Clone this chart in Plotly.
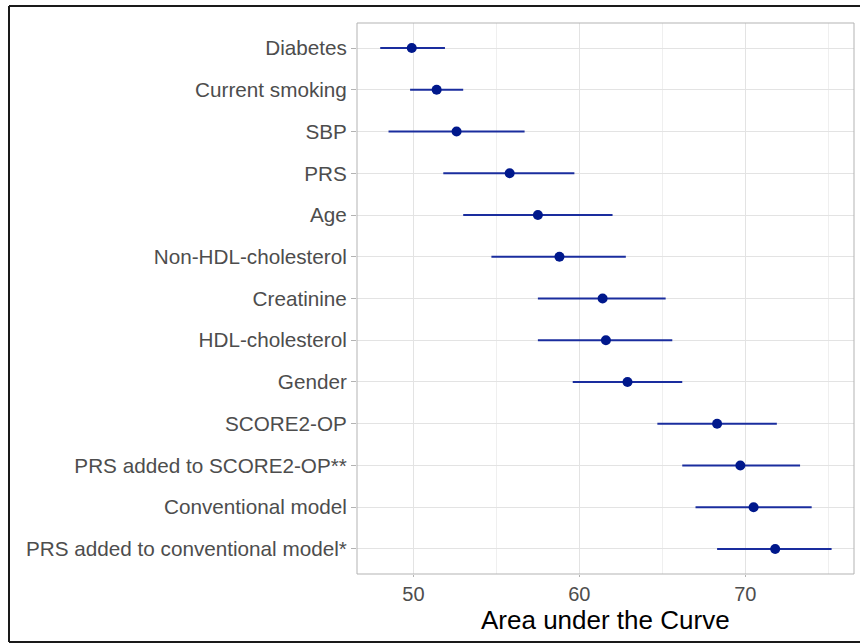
import plotly.graph_objects as go

labels = ["Diabetes", "Current smoking", "SBP", "PRS", "Age", "Non-HDL-cholesterol",
          "Creatinine", "HDL-cholesterol", "Gender", "SCORE2-OP",
          "PRS added to SCORE2-OP**", "Conventional model", "PRS added to conventional model*"]
auc = [49.9, 51.4, 52.6, 55.8, 57.5, 58.8, 61.4, 61.6, 62.9, 68.3, 69.7, 70.5, 71.8]
lower = [48.0, 49.8, 48.5, 51.8, 53.0, 54.7, 57.5, 57.5, 59.6, 64.7, 66.2, 67.0, 68.3]
upper = [51.9, 53.0, 56.7, 59.7, 62.0, 62.8, 65.2, 65.6, 66.2, 71.9, 73.3, 74.0, 75.2]
xticks = [50, 60, 70]
x_title = "Area under the Curve"

W, H = 860, 644
L, R, T, B = 357, 6, 23, 70

fig = go.Figure()
fig.add_trace(go.Scatter(
    x=auc, y=labels, mode="markers",
    marker=dict(size=10, color="#00188c"),
    error_x=dict(type="data", symmetric=False,
                 array=[u - a for u, a in zip(upper, auc)],
                 arrayminus=[a - l for a, l in zip(auc, lower)],
                 width=0, thickness=2, color="#1a2d9e"),
    showlegend=False,
))

# outer frame in paper coords
pw = W - L - R
ph = H - T - B
def px(x):
    return (x - L) / pw
def py(y):
    return (H - B - y) / ph

fr = dict(type="line", xref="paper", yref="paper", line=dict(color="#1a1a1a", width=2))
fig.add_shape(**fr, x0=px(9), x1=px(9), y0=py(6), y1=py(642))
fig.add_shape(**fr, x0=px(9), x1=px(860), y0=py(6), y1=py(6))
fig.add_shape(**fr, x0=px(9), x1=px(860), y0=py(642), y1=py(642))

fig.add_annotation(text=x_title, xref="paper", yref="paper", x=0.5, y=py(620),
                   xanchor="center", yanchor="middle", showarrow=False,
                   font=dict(size=26, color="black"))

fig.update_layout(
    width=W, height=H,
    margin=dict(l=L, r=R, t=T, b=B, pad=0),
    plot_bgcolor="white", paper_bgcolor="white",
    font=dict(family="Liberation Sans, Arial, sans-serif", color="#4d4d4d", size=20),
    xaxis=dict(
        range=[46.6, 76.55], tickvals=xticks, ticktext=[str(v) for v in xticks],
        showgrid=True, gridcolor="#e3e3e3", gridwidth=1,
        minor=dict(dtick=5, tick0=45, showgrid=True, gridcolor="#efefef", gridwidth=1),
        ticks="outside", ticklen=2, tickcolor="#b3b3b3",
        showline=False, zeroline=False,
        tickfont=dict(size=20, color="#4d4d4d"),
    ),
    yaxis=dict(
        categoryorder="array", categoryarray=labels,
        range=[12.6, -0.6],
        showgrid=True, gridcolor="#e3e3e3", gridwidth=1,
        ticks="outside", ticklen=5, tickcolor="#b3b3b3",
        zeroline=False, tickfont=dict(size=20.7, color="#4d4d4d"),
    ),
)
# panel border
fig.add_shape(type="rect", xref="paper", yref="paper", x0=0, x1=1, y0=0, y1=1,
              line=dict(color="#b3b3b3", width=1), layer="above")

fig.write_html("out.html", config={"displayModeBar": False},
               post_script="document.body.style.margin='0';")
